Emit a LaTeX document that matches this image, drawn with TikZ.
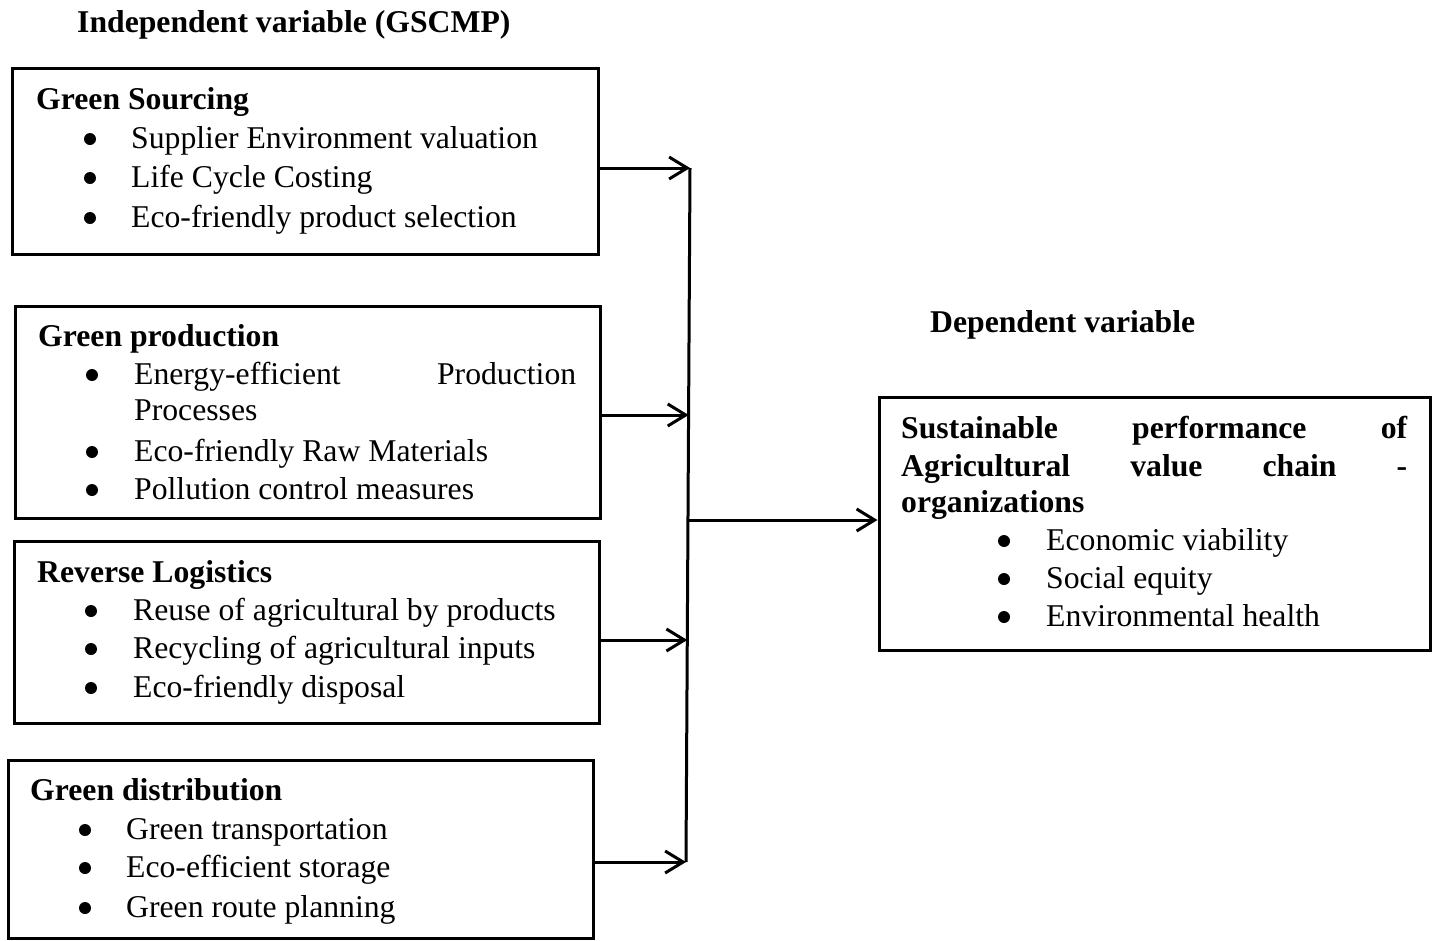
\documentclass[tikz,border=0pt]{standalone}
\usepackage{fontspec}
\setmainfont{Liberation Serif}
\usetikzlibrary{arrows.meta}
\tikzset{
  box/.style={draw, line width=3pt, inner sep=0pt},
  txt/.style={anchor=base west, inner sep=0pt, font=\fontsize{31.7pt}{39pt}\selectfont},
  hd/.style={anchor=base west, inner sep=0pt, font=\fontsize{31.7pt}{39pt}\selectfont\bfseries},
  bul/.style={circle, fill=black, inner sep=0pt, minimum size=12pt, yshift=9pt},
  arr/.style={line width=3pt, -{Straight Barb[length=18pt, width=22pt, line width=3pt]}},
  trunk/.style={line width=3pt}
}
\begin{document}
\begin{tikzpicture}[x=1pt, y=-1pt]
\useasboundingbox (0,0) rectangle (1438,940);

% titles
\node[hd] (t1) at (77,32) {Independent variable (GSCMP)};
\node[hd] (t2) at (930,332) {Dependent variable};

% boxes
\node[box, minimum width=586pt, minimum height=186pt] (b1) at (305,161.5) {};
\node[box, minimum width=585pt, minimum height=212pt] (b2) at (308,412) {};
\node[box, minimum width=585pt, minimum height=182pt] (b3) at (306.5,632) {};
\node[box, minimum width=585pt, minimum height=178pt] (b4) at (300.5,849) {};
\node[box, minimum width=551pt, minimum height=253pt] (rb) at (1154.5,523.5) {};

% box 1
\node[hd] (h1) at (36,109) {Green Sourcing};
\node[bul] (p11) at (90,148) {};
\node[bul] (p12) at (90,187) {};
\node[bul] (p13) at (90,227) {};
\node[txt] (s11) at (131,148) {Supplier Environment valuation};
\node[txt] (s12) at (131,187) {Life Cycle Costing};
\node[txt] (s13) at (131,227) {Eco-friendly product selection};

% box 2
\node[hd] (h2) at (38,346) {Green production};
\node[bul] (p21) at (92,384) {};
\node[bul] (p22) at (92,461) {};
\node[bul] (p23) at (92,499) {};
\node[txt] (s21) at (134,384) {\hbox to 442pt{Energy-efficient\hfill Production}};
\node[txt] (s21b) at (134,420) {Processes};
\node[txt] (s22) at (134,461) {Eco-friendly Raw Materials};
\node[txt] (s23) at (134,499) {Pollution control measures};

% box 3
\node[hd] (h3) at (37,582) {Reverse Logistics};
\node[bul] (p31) at (91,620) {};
\node[bul] (p32) at (91,658) {};
\node[bul] (p33) at (91,697) {};
\node[txt] (s31) at (133,620) {Reuse of agricultural by products};
\node[txt] (s32) at (133,658) {Recycling of agricultural inputs};
\node[txt] (s33) at (133,697) {Eco-friendly disposal};

% box 4
\node[hd] (h4) at (30,800) {Green distribution};
\node[bul] (p41) at (85,839) {};
\node[bul] (p42) at (85,877) {};
\node[bul] (p43) at (85,917) {};
\node[txt] (s41) at (126,839) {Green transportation};
\node[txt] (s42) at (126,877) {Eco-efficient storage};
\node[txt] (s43) at (126,917) {Green route planning};

% right box
\node[hd] (r1) at (901,438) {\hbox to 506pt{Sustainable\hfill performance\hfill of}};
\node[hd] (r2) at (901,476) {\hbox to 506pt{Agricultural\hfill value\hfill chain\hfill -}};
\node[hd] (r3) at (901,512) {organizations};
\node[bul] (q1) at (1004,550) {};
\node[bul] (q2) at (1004,588) {};
\node[bul] (q3) at (1004,626) {};
\node[txt] (u1) at (1046,550) {Economic viability};
\node[txt] (u2) at (1046,588) {Social equity};
\node[txt] (u3) at (1046,626) {Environmental health};

% connectors
\coordinate (j1) at (690,168);
\coordinate (j2) at (688.6,415);
\coordinate (j3) at (687.3,640);
\coordinate (j4) at (686,862);
\coordinate (jo) at (688,520);
\draw[trunk] (j1) -- (j4);
\draw[arr] (b1.east |- j1) -- (j1);
\draw[arr] (b2.east |- j2) -- (j2);
\draw[arr] (b3.east |- j3) -- (j3);
\draw[arr] (b4.east |- j4) -- (j4);
\draw[arr] (jo) -- (rb.west |- jo);
\end{tikzpicture}
\end{document}
